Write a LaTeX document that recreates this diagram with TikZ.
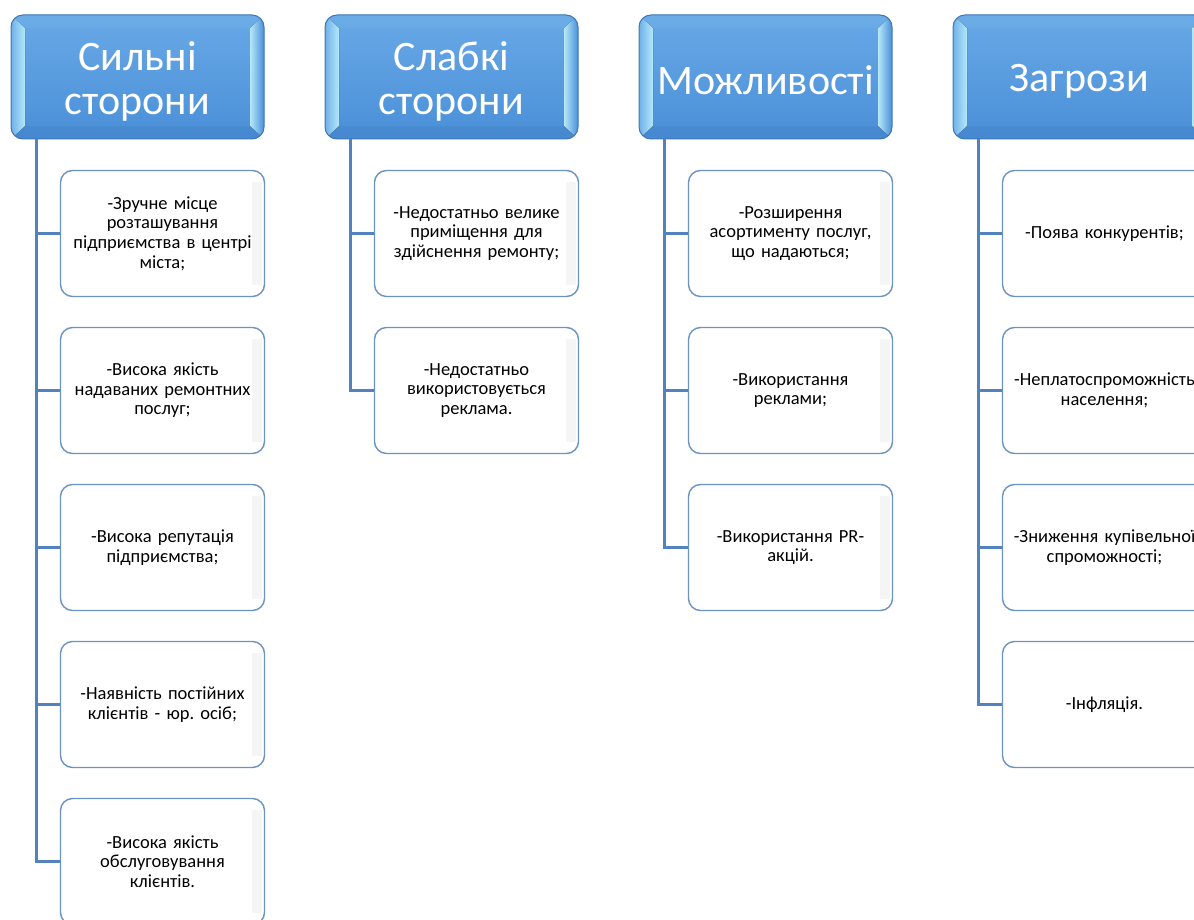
\documentclass[tikz,border=0pt]{standalone}
\usepackage{fontspec}
\setmainfont{Carlito}
\frenchspacing
\usetikzlibrary{calc}
\definecolor{hdrline}{HTML}{3F76B8}
\definecolor{hdrtop}{HTML}{68A9E6}
\definecolor{hdrbot}{HTML}{4A8FD8}
\definecolor{bevlight}{HTML}{B4E8FA}
\definecolor{bevmid}{HTML}{6FB0E8}
\definecolor{bevdark}{HTML}{3E7EC4}
\definecolor{leafline}{HTML}{6B93C4}
\definecolor{connline}{HTML}{5283BE}
\tikzset{
  hdr/.style={draw=hdrline, line width=1pt, rounded corners=12pt,
    top color=hdrtop, bottom color=hdrbot,
    minimum width=253pt, minimum height=124pt, inner sep=0pt,
    text=white, align=center, font=\fontsize{42}{44}\selectfont,
    path picture={
      \path (path picture bounding box.north west) coordinate (pnw)
            (path picture bounding box.south east) coordinate (pse);
      % 左斜面
      \fill[left color=bevmid, right color=bevlight, sharp corners]
        (pnw) -- ++(14pt,-13pt) -- ($(pnw|-pse)+(14pt,13pt)$) -- (pnw|-pse) -- cycle;
      % 右斜面
      \fill[left color=bevlight, right color=hdrbot, sharp corners]
        (pnw-|pse) -- ++(-14pt,-13pt) -- ($(pse)+(-14pt,13pt)$) -- (pse) -- cycle;
      % 上下斜面
      \fill[bevmid, opacity=.5, sharp corners]
        (pnw) -- ++(14pt,-13pt) -- ($(pnw-|pse)+(-14pt,-13pt)$) -- (pnw-|pse) -- cycle;
      \fill[bevdark, opacity=.35, sharp corners]
        (pnw|-pse) -- ++(14pt,13pt) -- ($(pse)+(-14pt,13pt)$) -- (pse) -- cycle;
    }},
  hdrlow/.style={text height=36pt},
  leaf/.style={draw=leafline, line width=1.4pt, rounded corners=12pt, fill=white,
    minimum width=204pt, minimum height=126pt, inner sep=0pt,
    text width=200pt, align=center, font=\fontsize{18.5}{19.6}\selectfont,
    path picture={
      \fill[left color=white, right color=black!4, sharp corners]
        ($(path picture bounding box.north east)+(-12pt,-12pt)$) rectangle
        ($(path picture bounding box.south east)+(-3pt,12pt)$);
    }},
  conn/.style={draw=connline, line width=2.2pt}
}
\begin{document}
\begin{tikzpicture}[x=1pt,y=-1pt]
  \useasboundingbox (0,0) rectangle (1194,920);
  \clip (0,0) rectangle (1194,920);
  % 标题
  \node[hdr] (h1) at (137.5,77) {\rule{0pt}{38pt}Сильні\\сторони};
  \node[hdr] (h2) at (451.5,77) {\rule{0pt}{38pt}Слабкі\\сторони};
  \node[hdr,hdrlow] (h3) at (765.5,77) {Можливості};
  \node[hdr,hdrlow] (h4) at (1079.5,77) {Загрози};
  % 第一列
  \foreach \t [count=\j] in {
      {-Зручне місце\\розташування\\підприємства в центрі\\міста;},
      {-Висока якість\\надаваних ремонтних\\послуг;},
      {-Висока репутація\\підприємства;},
      {-Наявність постійних\\клієнтів - юр. осіб;},
      {-Висока якість\\обслуговування\\клієнтів.}}
    \node[leaf] (c1-\j) at (162.5,{233.5+157*(\j-1)}) {\t};
  % 第二列
  \foreach \t [count=\j] in {
      {-Недостатньо велике\\приміщення для\\здійснення ремонту;},
      {-Недостатньо\\використовується\\реклама.}}
    \node[leaf] (c2-\j) at (476.5,{233.5+157*(\j-1)}) {\t};
  % 第三列
  \foreach \t [count=\j] in {
      {-Розширення\\асортименту послуг,\\що надаються;},
      {-Використання\\реклами;},
      {-Використання PR-\\акцій.}}
    \node[leaf] (c3-\j) at (790.5,{233.5+157*(\j-1)}) {\t};
  % 第四列
  \foreach \t [count=\j] in {
      {-Поява конкурентів;},
      {-Неплатоспроможність\\населення;},
      {-Зниження купівельної\\спроможності;},
      {-Інфляція.}}
    \node[leaf] (c4-\j) at (1104.5,{233.5+157*(\j-1)}) {\t};
  % 连线
  \foreach \j in {1,...,5}
    \draw[conn] ($(h1.south west)+(26pt,0)$) |- (c1-\j.west);
  \foreach \j in {1,2}
    \draw[conn] ($(h2.south west)+(26pt,0)$) |- (c2-\j.west);
  \foreach \j in {1,2,3}
    \draw[conn] ($(h3.south west)+(26pt,0)$) |- (c3-\j.west);
  \foreach \j in {1,...,4}
    \draw[conn] ($(h4.south west)+(26pt,0)$) |- (c4-\j.west);
\end{tikzpicture}
\end{document}
